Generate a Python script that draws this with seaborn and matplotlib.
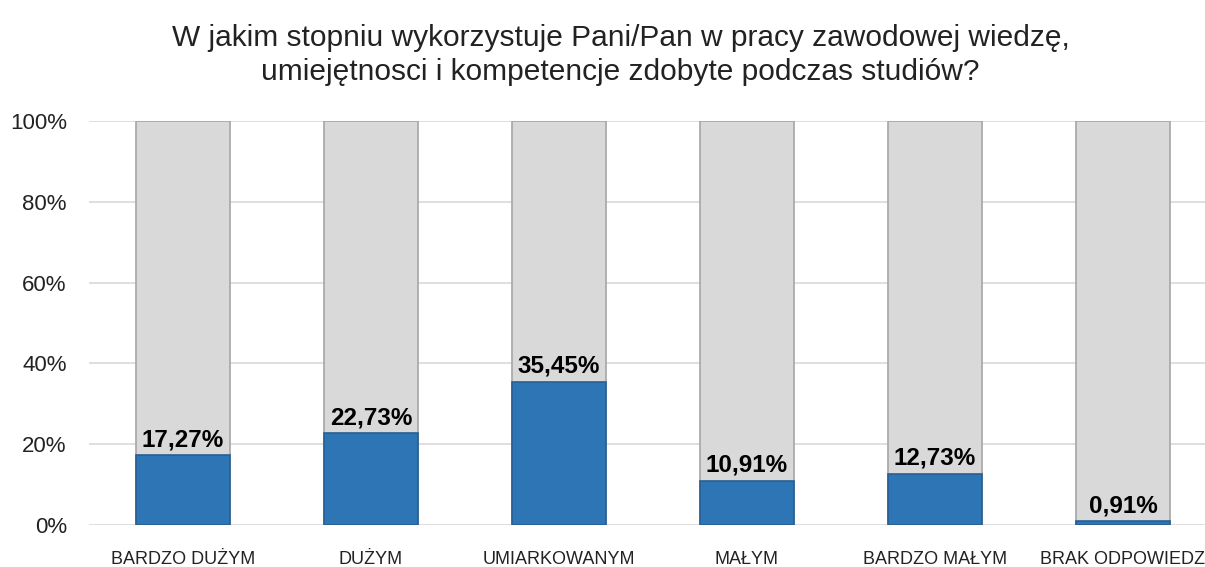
#!/usr/bin/env python3

import pandas as pd
import matplotlib.pyplot as plt
import seaborn as sns

categories = ["BARDZO DUŻYM", "DUŻYM", "UMIARKOWANYM", "MAŁYM", "BARDZO MAŁYM", "BRAK ODPOWIEDZ"]
values = [17.27, 22.73, 35.45, 10.91, 12.73, 0.91]
totals = [100, 100, 100, 100, 100, 100]
yticks = [0, 20, 40, 60, 80, 100]
title = "W jakim stopniu wykorzystuje Pani/Pan w pracy zawodowej wiedzę,\numiejętnosci i kompetencje zdobyte podczas studiów?"


def main():
    df = pd.DataFrame({"category": categories, "value": values, "total": totals})

    sns.set_style("white")
    plt.rcParams["font.family"] = ["Liberation Sans", "DejaVu Sans"]

    fig = plt.figure(figsize=(12.05, 5.67), dpi=100)
    ax = fig.add_axes([89 / 1205, 42 / 567, 1116 / 1205, 404 / 567])

    sns.barplot(data=df, x="category", y="total", color="#d9d9d9", width=0.5,
                edgecolor="#a6a6a6", linewidth=1.2, saturation=1, ax=ax, zorder=2)
    sns.barplot(data=df, x="category", y="value", color="#2e75b6", width=0.5,
                edgecolor="#285f92", linewidth=1.2, saturation=1, ax=ax, zorder=3)

    for i, v in enumerate(values):
        ax.annotate(f"{v:.2f}%".replace(".", ","), (i, v), xytext=(0, 3),
                    textcoords="offset points", ha="center", va="bottom",
                    fontsize=17.5, fontweight="bold", color="black", zorder=4)

    ax.set_xlim(-0.5, (1205 - 183) / 188)
    ax.set_ylim(0, 100)
    ax.set_yticks(yticks)
    ax.set_yticklabels([f"{t}%" for t in yticks], fontsize=16, color="#222222")
    ax.yaxis.grid(True, color="#d9d9d9", linewidth=1.2, zorder=0)
    ax.set_axisbelow(True)
    ax.tick_params(axis="y", length=0, pad=16)
    ax.tick_params(axis="x", length=0, pad=19, labelsize=13, labelcolor="#222222")
    ax.set_xlabel("")
    ax.set_ylabel("")
    for s in ax.spines.values():
        s.set_visible(False)

    fig.text(0.515, 0.958, title, ha="center", va="top", fontsize=21.5,
             color="#222222", linespacing=1.3)

    fig.savefig("out.png", dpi=100)
    plt.close(fig)


if __name__ == "__main__":
    main()
